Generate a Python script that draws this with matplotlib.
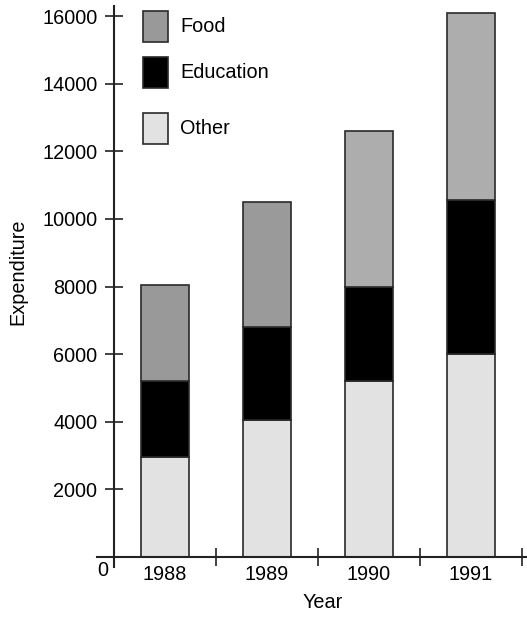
import matplotlib
matplotlib.use("Agg")
import matplotlib.pyplot as plt
from matplotlib.patches import Rectangle

plt.rcParams['font.family'] = ['Liberation Sans', 'DejaVu Sans']

years = ['1988', '1989', '1990', '1991']
other = [2950, 4050, 5200, 6000]
education = [2250, 2750, 2800, 4550]
food = [2850, 3700, 4600, 5550]
food_colors = ['#999999', '#9a9a9a', '#adadad', '#adadad']
series_names = ['Food', 'Education', 'Other']
legend_colors = ['#999999', '#000000', '#e2e2e2']
yticks = [2000, 4000, 6000, 8000, 10000, 12000, 14000, 16000]

W, H = 527, 617
fs = 14.3
fig = plt.figure(figsize=(W / 100, H / 100), dpi=100)
ax = fig.add_axes([97 / W, (617 - 567) / H, 430 / W, 561 / H])

x = [1, 2, 3, 4]
edge = '#2a2a2a'
lw = 1.2
bw = 0.47
ax.bar(x, other, width=bw, color='#e2e2e2', edgecolor=edge, linewidth=lw, zorder=2)
bottom2 = [o for o in other]
ax.bar(x, education, width=bw, bottom=bottom2, color='#000000', edgecolor=edge, linewidth=lw, zorder=2)
bottom3 = [o + e for o, e in zip(other, education)]
ax.bar(x, food, width=bw, bottom=bottom3, color=food_colors, edgecolor=edge, linewidth=lw, zorder=2)

ax.set_xlim(0.333, 4.549)
ax.set_ylim(-300, 16300)

for s in ['top', 'right']:
    ax.spines[s].set_visible(False)
ax.spines['left'].set_position(('data', 0.5))
ax.spines['bottom'].set_position(('data', 0))
for s in ['left', 'bottom']:
    ax.spines[s].set_linewidth(1.5)
    ax.spines[s].set_color('#222222')

ax.set_yticks(yticks)
ax.set_yticklabels([str(v) for v in yticks])
ax.tick_params(axis='y', direction='inout', length=13, width=1.2, color='#222222',
               labelsize=fs, pad=5.5)

ax.set_xticks(x)
ax.set_xticklabels(years)
ax.set_xticks([1.5, 2.5, 3.5, 4.5], minor=True)
ax.tick_params(axis='x', which='major', length=0, labelsize=fs, pad=6)
ax.tick_params(axis='x', which='minor', direction='inout', length=13, width=1.2, color='#222222')

ax.annotate('0', xy=(0.5, 0), xytext=(-11, -14), textcoords='offset pixels',
            ha='center', va='center', fontsize=fs)

fig.text(18 / W, 1 - 272 / H, 'Expenditure', rotation=90, ha='center', va='center', fontsize=fs)
fig.text(323 / W, 1 - 603 / H, 'Year', ha='center', va='center', fontsize=fs)

# legend
leg_y = [11, 57, 113]
for name, col, yt in zip(series_names, legend_colors, leg_y):
    fig.patches.append(Rectangle((143 / W, 1 - (yt + 31) / H), 25 / W, 31 / H,
                                 transform=fig.transFigure, facecolor=col,
                                 edgecolor=edge, linewidth=lw))
    fig.text(180 / W, 1 - (yt + 16) / H, name, ha='left', va='center', fontsize=fs)

fig.savefig('out.png', dpi=100)
